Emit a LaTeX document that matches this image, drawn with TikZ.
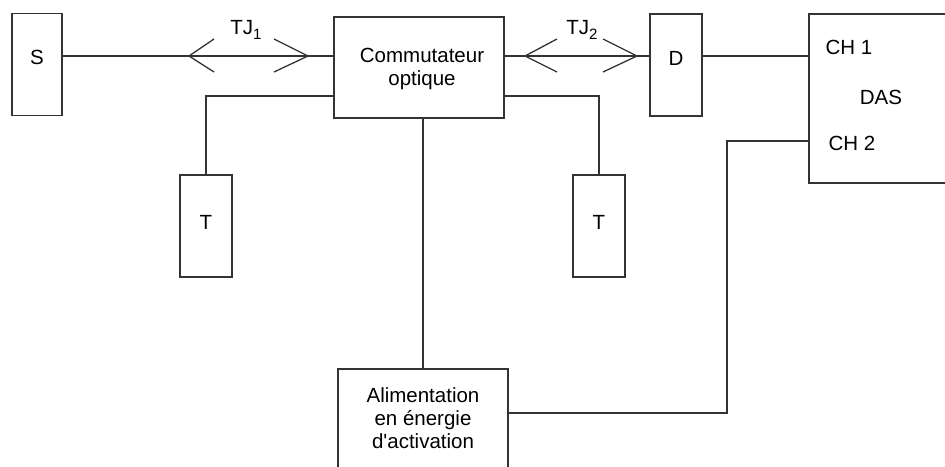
\documentclass[tikz,border=0pt]{standalone}
\usepackage{fontspec}
\setmainfont{Liberation Sans}
\usetikzlibrary{calc}
\newcommand{\tjsub}[1]{\raisebox{-0.45ex}{\fontsize{15}{15}\selectfont #1}}
\newcommand{\apos}{\XeTeXglyph\XeTeXcharglyph"27\relax}

\begin{document}
\begin{tikzpicture}[x=1pt,y=-1pt,line width=1.3pt,color=black!80,
  every node/.style={text=black,inner sep=0pt,font=\fontsize{20.5}{23}\selectfont},
  box/.style={draw,rectangle,line width=1.3pt}]
\useasboundingbox (0,0) rectangle (945,466);
% blocs
\node[box,minimum width=50,minimum height=102,label={[yshift=7pt]center:S}] (S) at (37,64.5) {};
\node[box,minimum width=170,minimum height=101,label={[xshift=3pt,yshift=-1.5pt,align=center]center:Commutateur\\optique}] (Com) at (419,67.5) {};
\node[box,minimum width=52,minimum height=102,label={[yshift=7pt]center:D}] (D) at (676,65) {};
\node[box,minimum width=157,minimum height=169] (DAS) at (887.5,98.5) {};
\node[box,minimum width=52,minimum height=102,label={[yshift=4pt]center:T}] (T1) at (206,226) {};
\node[box,minimum width=52,minimum height=102,label={[yshift=4pt]center:T}] (T2) at (599,226) {};
\node[box,minimum width=170,minimum height=111,label={[yshift=6.5pt,align=center]center:Alimentation\\en énergie\\d\apos activation}] (Ali) at (423,424.5) {};
% textes
\node[anchor=west] (ch1) at (825,47.5) {CH 1};
\node (das) at (881,97.5) {DAS};
\node[anchor=west] (ch2) at (828,143) {CH 2};
\node (tj1) at (246,30) {TJ\tjsub{1}};
\node (tj2) at (582,30) {TJ\tjsub{2}};
% liaisons
\coordinate (ligne) at (0,56);
\coordinate (der) at (0,96);
\coordinate (ch) at (0,141);
\draw (S.east |- ligne) -- (Com.west |- ligne);
\draw (Com.east |- ligne) -- (D.west |- ligne);
\draw (D.east |- ligne) -- (DAS.west |- ligne);
\draw (Com.west |- der) -| (T1.north);
\draw (Com.east |- der) -| (T2.north);
\draw (Ali.north) -- (Ali.north |- Com.south);
\draw (DAS.west |- ch) -- (727,141) |- (Ali.east |- 0,413);
% jonctions
\coordinate (a1) at (189,56);
\coordinate (a2) at (308,56);
\coordinate (b1) at (525,56);
\coordinate (b2) at (637,56);
\draw (a1) ++(25,-17) -- (a1) -- ++(25,16);
\draw (a2) ++(-34,-17) -- (a2) -- ++(-34,16);
\draw (b1) ++(32,-17) -- (b1) -- ++(32,16);
\draw (b2) ++(-34,-17) -- (b2) -- ++(-34,16);
\end{tikzpicture}
\end{document}
